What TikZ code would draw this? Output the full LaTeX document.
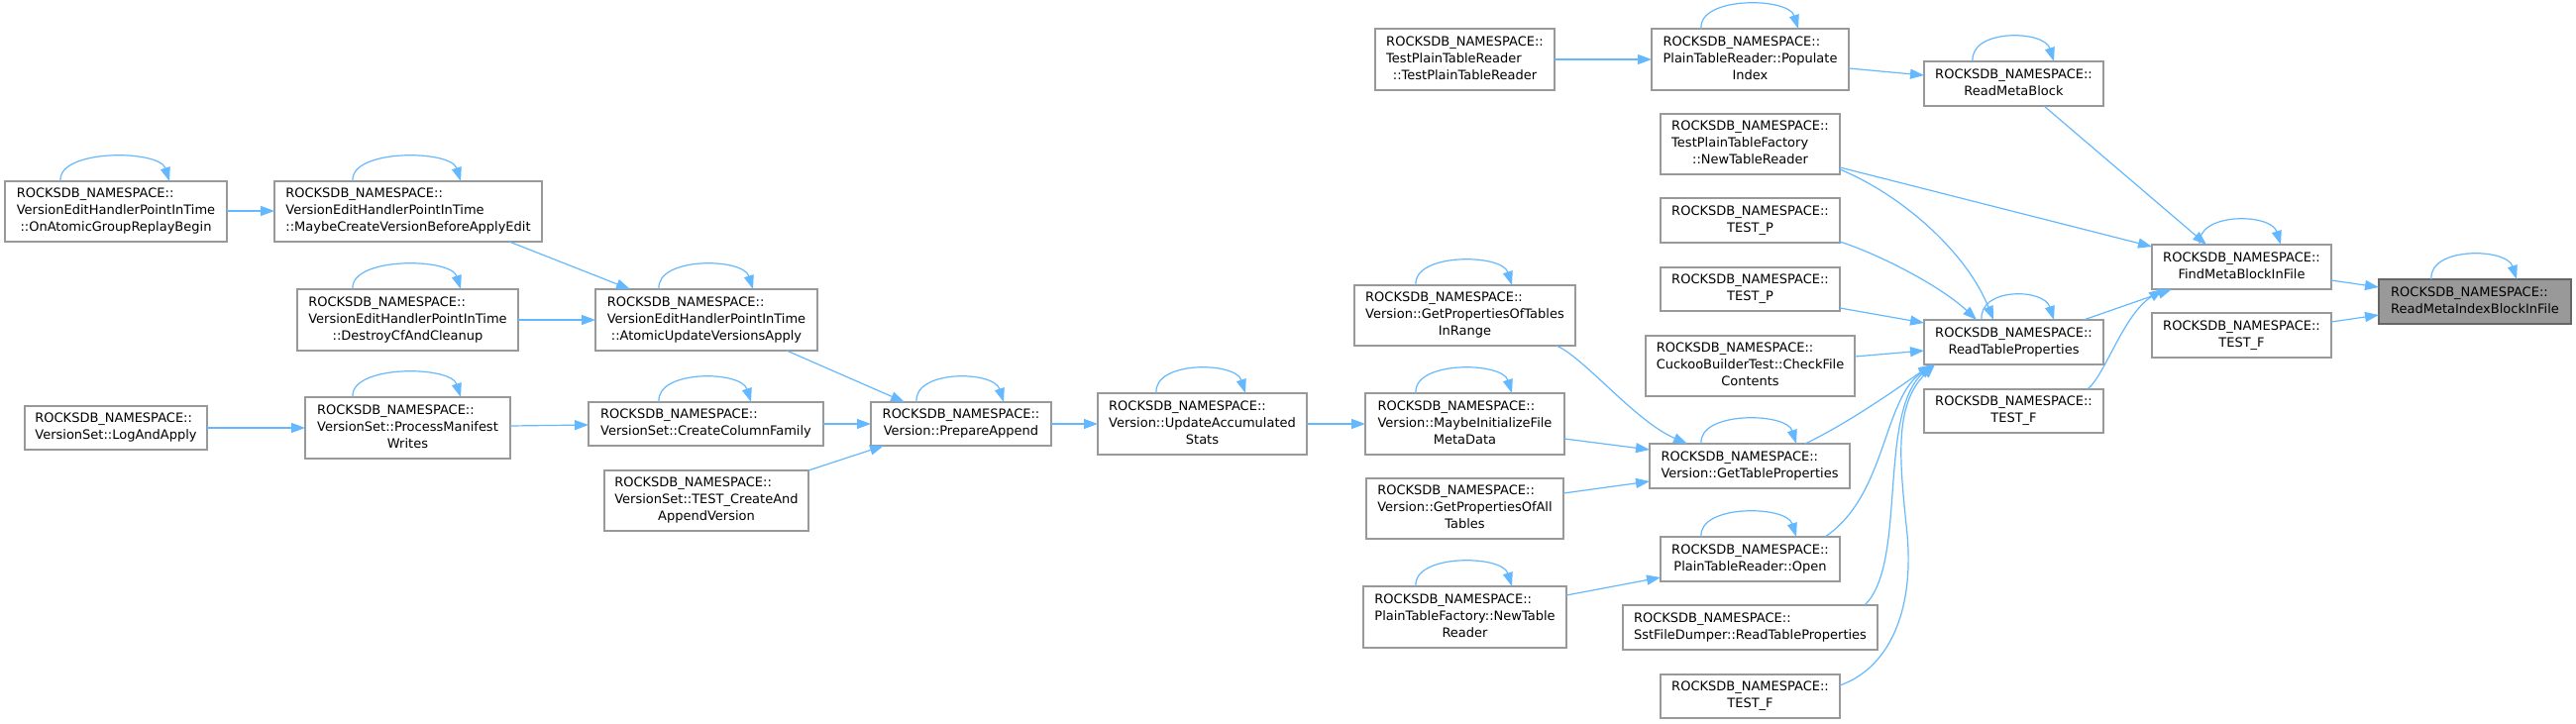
\documentclass[tikz,border=0pt]{standalone}
\usepackage{fontspec}
\setmainfont{DejaVu Sans}
\usetikzlibrary{arrows.meta,calc}
\definecolor{edgeblue}{HTML}{63B8FF}
\definecolor{nodeborder}{HTML}{999999}
\definecolor{hlfill}{HTML}{999999}
\definecolor{hlborder}{HTML}{666666}
\newcommand{\rns}{ROCKSDB\_NAMESPACE::}
\newcommand{\twoL}[2]{\begin{tabular}{@{}l@{}}#1\\\multicolumn{1}{@{}c@{}}{#2}\end{tabular}}
\newcommand{\threeL}[3]{\begin{tabular}{@{}l@{}}#1\\#2\\\multicolumn{1}{@{}c@{}}{#3}\end{tabular}}
\newcommand{\bx}[7][]{\node[nbox,#1,minimum width={(#5-#3)*0.75pt},minimum height={(#6-#4)*0.75pt}] (#2) at ({(#3+#5)/2},{(#4+#6)/2}) {#7};}
\tikzset{
  nbox/.style={draw=nodeborder, fill=white, line width=1.1pt, inner sep=0pt, outer sep=0pt,
    font=\fontsize{9.75pt}{12.75pt}\selectfont, text=black},
  hl/.style={fill=hlfill, draw=hlborder},
  cedge/.style={draw=edgeblue, line width=0.9pt, -{Triangle[length=10.5pt,width=7.5pt]}}
}
\begin{document}
\begin{tikzpicture}[x=0.75pt,y=-0.75pt]
\useasboundingbox (0,0) rectangle (2600,731);
% nodes
\bx[hl]{rmib}{2401}{282}{2595}{327}{\twoL{\rns}{ReadMetaIndexBlockInFile}}
\bx{find}{2172}{247}{2353}{292}{\twoL{\rns}{FindMetaBlockInFile}}
\bx{testfa}{2172}{316}{2353}{361}{\twoL{\rns}{TEST\_F}}
\bx{rmb}{1942}{62}{2123}{107}{\twoL{\rns}{ReadMetaBlock}}
\bx{rtp}{1942}{323}{2123}{368}{\twoL{\rns}{ReadTableProperties}}
\bx{testfb}{1942}{393}{2123}{437}{\twoL{\rns}{TEST\_F}}
\bx{tptr}{1388}{29}{1569}{91}{\threeL{\rns}{TestPlainTableReader}{::TestPlainTableReader}}
\bx{popidx}{1667}{29}{1866}{91}{\threeL{\rns}{PlainTableReader::Populate}{Index}}
\bx{tptf}{1676}{115}{1857}{176}{\threeL{\rns}{TestPlainTableFactory}{::NewTableReader}}
\bx{testpa}{1676}{200}{1857}{245}{\twoL{\rns}{TEST\_P}}
\bx{testpb}{1676}{270}{1857}{314}{\twoL{\rns}{TEST\_P}}
\bx{cuckoo}{1661}{339}{1872}{400}{\threeL{\rns}{CuckooBuilderTest::CheckFile}{Contents}}
\bx{gtp}{1665}{448}{1867}{493}{\twoL{\rns}{Version::GetTableProperties}}
\bx{open}{1676}{542}{1857}{587}{\twoL{\rns}{PlainTableReader::Open}}
\bx{sst}{1638}{611}{1895}{656}{\twoL{\rns}{SstFileDumper::ReadTableProperties}}
\bx{testfc}{1676}{681}{1857}{725}{\twoL{\rns}{TEST\_F}}
\bx{gpotir}{1367}{288}{1590}{349}{\threeL{\rns}{Version::GetPropertiesOfTables}{InRange}}
\bx{mifmd}{1378}{397}{1579}{459}{\threeL{\rns}{Version::MaybeInitializeFile}{MetaData}}
\bx{gpoat}{1379}{483}{1578}{544}{\threeL{\rns}{Version::GetPropertiesOfAll}{Tables}}
\bx{ptfntr}{1376}{592}{1581}{654}{\threeL{\rns}{PlainTableFactory::NewTable}{Reader}}
\bx{uas}{1108}{397}{1319}{459}{\threeL{\rns}{Version::UpdateAccumulated}{Stats}}
\bx{pa}{879}{406}{1061}{450}{\twoL{\rns}{Version::PrepareAppend}}
\bx{auva}{601}{292}{825}{354}{\threeL{\rns}{VersionEditHandlerPointInTime}{::AtomicUpdateVersionsApply}}
\bx{ccf}{594}{406}{831}{450}{\twoL{\rns}{VersionSet::CreateColumnFamily}}
\bx{tcaav}{610}{475}{816}{536}{\threeL{\rns}{VersionSet::TEST\_CreateAnd}{AppendVersion}}
\bx{mcvbae}{277}{183}{547}{244}{\threeL{\rns}{VersionEditHandlerPointInTime}{::MaybeCreateVersionBeforeApplyEdit}}
\bx{dcac}{300}{292}{523}{354}{\threeL{\rns}{VersionEditHandlerPointInTime}{::DestroyCfAndCleanup}}
\bx{pmw}{308}{401}{515}{463}{\threeL{\rns}{VersionSet::ProcessManifest}{Writes}}
\bx{laa}{25}{410}{209}{454}{\twoL{\rns}{VersionSet::LogAndApply}}
\bx{oagrb}{5}{183}{229}{244}{\threeL{\rns}{VersionEditHandlerPointInTime}{::OnAtomicGroupReplayBegin}}
% self loops
\draw[cedge] ($(rmib.north west)+(53,0)$) .. controls +(-3,-33) and +(-10,-32) .. ($(rmib.north west)+(139,0)$);
\draw[cedge] ($(find.north west)+(48,0)$) .. controls +(-3,-33) and +(-10,-32) .. ($(find.north west)+(130,0)$);
\draw[cedge] ($(rmb.north west)+(49,0)$) .. controls +(-3,-33) and +(-10,-32) .. ($(rmb.north west)+(131,0)$);
\draw[cedge] ($(rtp.north west)+(58,0)$) .. controls +(-3,-33) and +(-10,-32) .. ($(rtp.north west)+(131,0)$);
\draw[cedge] ($(popidx.north west)+(50,0)$) .. controls +(-3,-33) and +(-10,-32) .. ($(popidx.north west)+(148,0)$);
\draw[cedge] ($(gtp.north west)+(52,0)$) .. controls +(-3,-33) and +(-10,-32) .. ($(gtp.north west)+(148,0)$);
\draw[cedge] ($(open.north west)+(41,0)$) .. controls +(-3,-33) and +(-10,-32) .. ($(open.north west)+(137,0)$);
\draw[cedge] ($(gpotir.north west)+(62,0)$) .. controls +(-3,-33) and +(-10,-32) .. ($(gpotir.north west)+(159,0)$);
\draw[cedge] ($(mifmd.north west)+(51,0)$) .. controls +(-3,-33) and +(-10,-32) .. ($(mifmd.north west)+(148,0)$);
\draw[cedge] ($(ptfntr.north west)+(53,0)$) .. controls +(-3,-33) and +(-10,-32) .. ($(ptfntr.north west)+(150,0)$);
\draw[cedge] ($(uas.north west)+(59,0)$) .. controls +(-3,-33) and +(-10,-32) .. ($(uas.north west)+(149,0)$);
\draw[cedge] ($(pa.north west)+(46,0)$) .. controls +(-3,-33) and +(-10,-32) .. ($(pa.north west)+(134,0)$);
\draw[cedge] ($(auva.north west)+(64,0)$) .. controls +(-3,-33) and +(-10,-32) .. ($(auva.north west)+(159,0)$);
\draw[cedge] ($(ccf.north west)+(71,0)$) .. controls +(-3,-33) and +(-10,-32) .. ($(ccf.north west)+(164,0)$);
\draw[cedge] ($(mcvbae.north west)+(79,0)$) .. controls +(-3,-33) and +(-10,-32) .. ($(mcvbae.north west)+(188,0)$);
\draw[cedge] ($(dcac.north west)+(56,0)$) .. controls +(-3,-33) and +(-10,-32) .. ($(dcac.north west)+(165,0)$);
\draw[cedge] ($(pmw.north west)+(48,0)$) .. controls +(-3,-33) and +(-10,-32) .. ($(pmw.north west)+(157,0)$);
\draw[cedge] ($(oagrb.north west)+(56,0)$) .. controls +(-3,-33) and +(-10,-32) .. ($(oagrb.north west)+(166,0)$);
% edges
\draw[cedge] ($(find.north west)+(181,36)$) -- ($(rmib.north west)+(0,8)$);
\draw[cedge] ($(testfa.north west)+(181,9)$) -- ($(rmib.north west)+(0,36)$);
\draw[cedge] ($(rmb.north west)+(121,45)$) -- ($(find.north west)+(55,0)$);
\draw[cedge] ($(tptf.north west)+(181,54)$) -- ($(find.north west)+(0,2)$);
\draw[cedge] ($(tptf.north west)+(181,56)$) .. controls (1920,197) and (1985,255) .. ($(rtp.north west)+(70,0)$);
\draw[cedge] ($(testpa.north west)+(181,44)$) .. controls (1900,258) and (1960,290) .. ($(rtp.north west)+(53,0)$);
\draw[cedge] ($(testpb.north west)+(181,41)$) -- ($(rtp.north west)+(0,3)$);
\draw[cedge] ($(cuckoo.north west)+(211,21)$) -- ($(rtp.north west)+(0,31)$);
\draw[cedge] ($(rtp.north west)+(161,0)$) -- ($(find.north west)+(20,45)$);
\draw[cedge] ($(testfb.north west)+(165,0)$) .. controls (2125,378) and (2143,318) .. ($(find.north west)+(11,45)$);
\draw[cedge] ($(popidx.north west)+(199,40)$) -- ($(rmb.north west)+(0,14)$);
\draw[cedge] ($(tptr.north west)+(181,31)$) -- ($(popidx.north west)+(0,31)$);
\draw[cedge] ($(gtp.north west)+(157,0)$) .. controls (1870,425) and (1925,385) .. ($(rtp.north west)+(8,45)$);
\draw[cedge] ($(open.north west)+(166,0)$) .. controls (1905,500) and (1900,400) .. ($(rtp.north west)+(11,45)$);
\draw[cedge] ($(sst.north west)+(244,0)$) .. controls (1925,570) and (1895,420) .. ($(rtp.north west)+(8,45)$);
\draw[cedge] ($(testfc.north west)+(181,11)$) .. controls (1905,675) and (1932,620) .. (1925,540) .. controls (1918,470) and (1910,410) .. ($(rtp.north west)+(11,45)$);
\draw[cedge] ($(gpotir.north west)+(204,61)$) .. controls (1600,362) and (1650,425) .. ($(gtp.north west)+(38,0)$);
\draw[cedge] ($(mifmd.north west)+(201,46)$) -- ($(gtp.north west)+(0,6)$);
\draw[cedge] ($(gpoat.north west)+(199,15)$) -- ($(gtp.north west)+(0,38)$);
\draw[cedge] ($(ptfntr.north west)+(205,9)$) -- ($(open.north west)+(0,41)$);
\draw[cedge] ($(uas.north west)+(211,31)$) -- ($(mifmd.north west)+(0,31)$);
\draw[cedge] ($(pa.north west)+(182,22)$) -- ($(uas.north west)+(0,31)$);
\draw[cedge] ($(auva.north west)+(193,62)$) -- ($(pa.north west)+(34,0)$);
\draw[cedge] ($(ccf.north west)+(237,22)$) -- ($(pa.north west)+(0,22)$);
\draw[cedge] ($(tcaav.north west)+(206,0)$) -- ($(pa.north west)+(13,44)$);
\draw[cedge] ($(mcvbae.north west)+(237,61)$) -- ($(auva.north west)+(35,0)$);
\draw[cedge] ($(dcac.north west)+(223,31)$) -- ($(auva.north west)+(0,31)$);
\draw[cedge] ($(oagrb.north west)+(224,30)$) -- ($(mcvbae.north west)+(0,30)$);
\draw[cedge] ($(pmw.north west)+(207,29)$) -- ($(ccf.north west)+(0,23)$);
\draw[cedge] ($(laa.north west)+(184,22)$) -- ($(pmw.north west)+(0,31)$);
\end{tikzpicture}
\end{document}
